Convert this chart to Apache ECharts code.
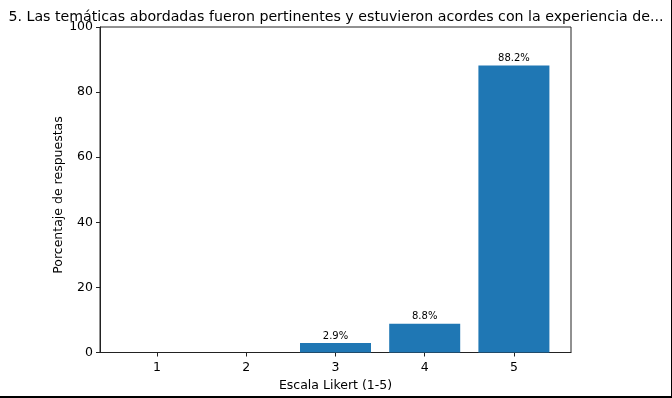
<!DOCTYPE html>
<html>
<head>
<meta charset="utf-8">
<script src="https://cdn.jsdelivr.net/npm/echarts@6/dist/echarts.min.js"></script>
<style>
html,body{margin:0;padding:0;background:#fff;}
#c{width:672px;height:398px;}
</style>
</head>
<body>
<div id="c"></div>
<script>
const titleText = "5. Las temáticas abordadas fueron pertinentes y estuvieron acordes con la experiencia de...";
const categories = [1, 2, 3, 4, 5];
const values = [0, 0, 2.9, 8.8, 88.2];
const yTicks = [0, 20, 40, 60, 80, 100];
const xName = "Escala Likert (1-5)";
const yName = "Porcentaje de respuestas";

const chart = echarts.init(document.getElementById('c'), null, {renderer: 'canvas'});
const font = 'DejaVu Sans';
const data = categories.map((c, i) => [c, values[i]]);

chart.setOption({
  animation: false,
  backgroundColor: '#fff',
  title: {
    text: titleText,
    left: 331, textAlign: 'center', top: 5,
    textStyle: {fontFamily: font, fontSize: 14.2, fontWeight: 'normal', color: '#000'}
  },
  grid: {
    left: 100, right: 101, top: 27, bottom: 45.5,
    show: true, borderColor: '#222', borderWidth: 1, backgroundColor: 'transparent'
  },
  xAxis: {
    type: 'value', min: 0.36, max: 5.64,
    name: xName, nameLocation: 'middle', nameGap: 26,
    nameTextStyle: {fontFamily: font, fontSize: 12.5, color: '#000'},
    axisLine: {show: true, lineStyle: {color: '#222', width: 1}},
    axisTick: {show: true, customValues: categories, length: 4, lineStyle: {color: '#222'}},
    axisLabel: {customValues: categories, fontFamily: font, fontSize: 12.5, color: '#000', margin: 9},
    splitLine: {show: false}
  },
  yAxis: {
    type: 'value', min: 0, max: 100, interval: 20,
    axisLine: {show: true, lineStyle: {color: '#222', width: 1}},
    axisTick: {show: true, length: 4, lineStyle: {color: '#222'}},
    axisLabel: {fontFamily: font, fontSize: 12.5, color: '#000', margin: 7},
    splitLine: {show: false}
  },
  series: [{
    type: 'bar',
    data: data.filter(d => d[1] > 0),
    barWidth: 71,
    itemStyle: {color: '#1f77b4'},
    label: {
      show: true, position: 'top', distance: 2,
      formatter: p => p.value[1].toFixed(1) + '%',
      fontFamily: font, fontSize: 10, color: '#000'
    }
  }],
  graphic: [
    {type: 'text', x: 59, y: 195, rotation: Math.PI / 2,
     style: {text: yName, fontFamily: font, fontSize: 12.5, fill: '#000', align: 'center', verticalAlign: 'middle'}},
    {type: 'rect', shape: {x: 0, y: 396, width: 672, height: 2}, style: {fill: '#000'}},
    {type: 'rect', shape: {x: 671, y: 0, width: 1, height: 398}, style: {fill: '#000'}}
  ]
});
</script>
</body>
</html>
